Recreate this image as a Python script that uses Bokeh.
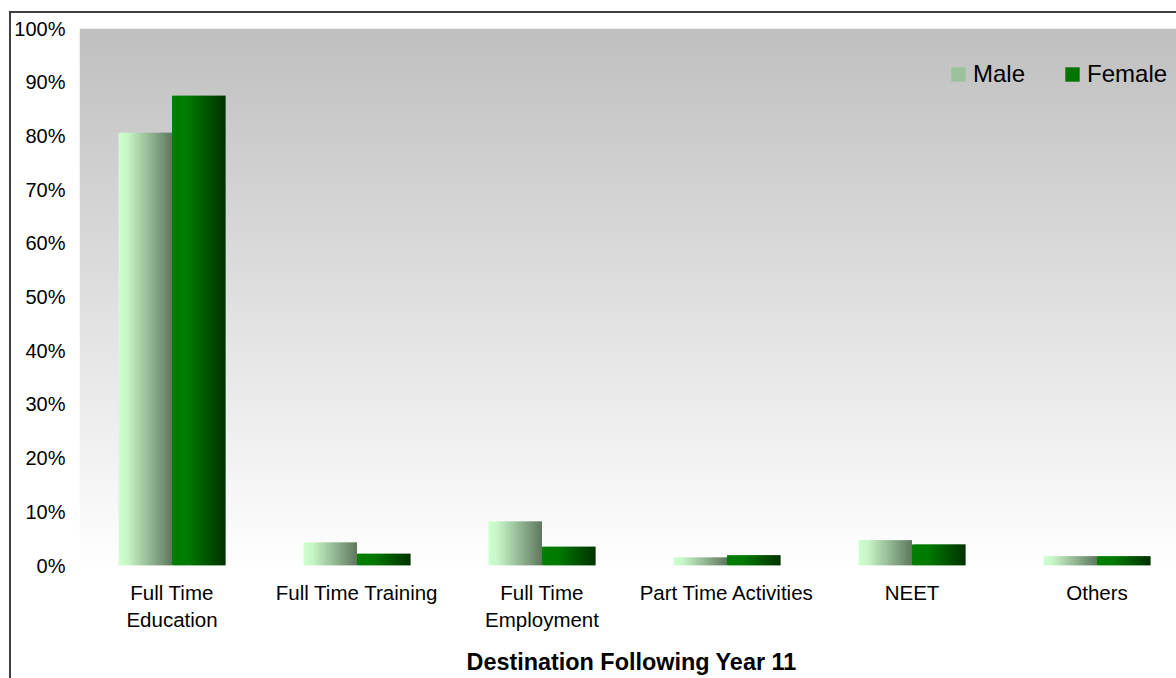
import numpy as np
from bokeh.plotting import figure
from bokeh.models import (FixedTicker, NumeralTickFormatter, Range1d, Title,
                          Legend, LegendItem)
from bokeh.embed import file_html
from bokeh.resources import INLINE

# ---- data -------------------------------------------------------------
categories = ["Full Time\nEducation", "Full Time Training", "Full Time\nEmployment",
              "Part Time Activities", "NEET", "Others"]
male = [0.806, 0.043, 0.082, 0.015, 0.047, 0.017]
female = [0.875, 0.022, 0.035, 0.019, 0.039, 0.017]
y_ticks = [0.0, 0.1, 0.2, 0.3, 0.4, 0.5, 0.6, 0.7, 0.8, 0.9, 1.0]
series_names = ["Male", "Female"]
x_title = "Destination Following Year 11"

# ---- layout / style ---------------------------------------------------
FONT = "Liberation Sans"
FRAME_W, FRAME_H = 1097, 537
CAT_PX = 185                      # pixel width of one category slot
X_END = FRAME_W / CAT_PX          # plot area is cut at the right edge
BAR_W = 53.5 / CAT_PX             # width of one bar in category units
SLICES = 40                       # vertical strips used for the bar shading

MALE_STOPS = [(0.0, (206, 255, 206)), (0.18, (198, 244, 198)), (1.0, (94, 120, 94))]
FEMALE_STOPS = [(0.0, (0, 128, 0)), (0.3, (0, 122, 0)), (1.0, (0, 50, 0))]


def shade(stops, t):
    for (t0, c0), (t1, c1) in zip(stops[:-1], stops[1:]):
        if t <= t1:
            f = (t - t0) / (t1 - t0)
            rgb = [round(a + (b - a) * f) for a, b in zip(c0, c1)]
            return "#%02x%02x%02x" % tuple(rgb)
    return "#%02x%02x%02x" % stops[-1][1]


p = figure(frame_width=FRAME_W, frame_height=FRAME_H,
           min_border_left=79, min_border_right=0,
           min_border_top=28, min_border_bottom=113,
           x_range=Range1d(0, X_END), y_range=Range1d(0, 1),
           output_backend="svg", toolbar_location=None,
           background_fill_color="white", border_fill_color=None,
           outline_line_color=None,
           # chart-area border (top and left edges) behind the transparent canvas margin
           styles={"background": "linear-gradient(#404040, #404040) 9px 11px / 100% 2px no-repeat, "
                                 "linear-gradient(#404040, #404040) 9px 11px / 2px 100% no-repeat, "
                                 "#ffffff"})
p.xgrid.visible = False
p.ygrid.visible = False

# plot-area background: grey at the top fading to white at the base
rows = 270
g = np.linspace(255, 192, rows).astype(np.uint8)
bg = np.zeros((rows, 1), dtype=np.uint32)
view = bg.view(dtype=np.uint8).reshape((rows, 1, 4))
view[:, 0, 0] = g
view[:, 0, 1] = g
view[:, 0, 2] = g
view[:, 0, 3] = 255
p.image_rgba(image=[bg], x=0, y=0, dw=X_END, dh=1.0)


def shaded_bars(values, offset, stops):
    """Each bar is built from thin overlapping strips that step through the shading."""
    left, right, tops, colors = [], [], [], []
    step = BAR_W / SLICES
    for i, v in enumerate(values):
        x0 = i + 0.5 + offset
        for k in range(SLICES):
            left.append(x0 + k * step)
            right.append(x0 + min(k + 1.8, SLICES) * step)
            tops.append(v)
            colors.append(shade(stops, (k + 0.5) / SLICES))
    return p.quad(left=left, right=right, top=tops, bottom=0,
                  fill_color=colors, line_color=None)


r_male = shaded_bars(male, -BAR_W, MALE_STOPS)
r_female = shaded_bars(female, 0.0, FEMALE_STOPS)

# axes
p.yaxis.ticker = FixedTicker(ticks=y_ticks)
p.yaxis.formatter = NumeralTickFormatter(format="0%")
p.xaxis.ticker = FixedTicker(ticks=[i + 0.5 for i in range(len(categories))])
p.xaxis.major_label_overrides = {i + 0.5: c for i, c in enumerate(categories)}
for ax in (p.xaxis, p.yaxis):
    ax.axis_line_color = None
    ax.major_tick_line_color = None
    ax.minor_tick_line_color = None
    ax.major_tick_out = 0
    ax.minor_tick_out = 0
    ax.major_label_text_font = FONT
    ax.major_label_text_font_size = "20px"
    ax.major_label_text_color = "black"
p.xaxis.major_label_text_font_size = "20.5px"
p.yaxis.major_label_standoff = 14
p.xaxis.major_label_standoff = 15

# axis title under the category slots
p.add_layout(Title(text=x_title, align="left", offset=387, standoff=24,
                   text_font=FONT, text_font_style="bold", text_font_size="23.4px",
                   text_color="black"), "below")

legend = Legend(items=[LegendItem(label=series_names[0], renderers=[r_male], index=SLICES // 2),
                       LegendItem(label=series_names[1], renderers=[r_female], index=SLICES // 3)],
                orientation="horizontal", location=(870, 477),
                background_fill_alpha=0, border_line_color=None,
                label_text_font=FONT, label_text_font_size="24px", label_text_color="black",
                glyph_width=18, glyph_height=18, label_standoff=6,
                spacing=38, padding=0, margin=0)
p.add_layout(legend)

open("out.html", "w").write(file_html(p, INLINE))
